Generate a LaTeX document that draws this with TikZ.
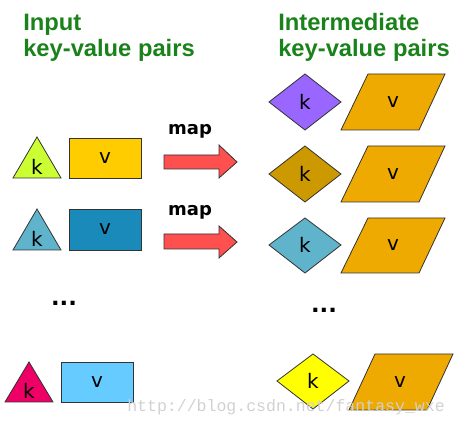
\documentclass[tikz,border=0pt]{standalone}
\usepackage{fontspec}
\setmainfont{DejaVu Sans}
\newfontfamily\titlefont{Liberation Sans}
\newfontfamily\markfont{Liberation Mono}
\definecolor{titlegreen}{HTML}{1A821A}
\definecolor{limeK}{HTML}{CCFF33}
\definecolor{goldV}{HTML}{FFCC00}
\definecolor{tealK}{HTML}{5FB4CC}
\definecolor{blueV}{HTML}{1A8ABB}
\definecolor{pinkK}{HTML}{EE0066}
\definecolor{skyV}{HTML}{66CCFF}
\definecolor{purpleK}{HTML}{9966FF}
\definecolor{ochreK}{HTML}{CC9900}
\definecolor{yellowK}{HTML}{FFFF00}
\definecolor{orangeV}{HTML}{EEAA00}
\definecolor{arrowred}{HTML}{FF5050}
\definecolor{edge}{HTML}{333333}
\tikzset{
  shapeline/.style={draw=edge, line width=0.6pt, line join=miter},
  lbl/.style={inner sep=0pt, font=\fontsize{15}{18}\selectfont},
  title/.style={text=titlegreen, font=\titlefont\bfseries\fontsize{17.8}{19.5}\selectfont, anchor=base west, inner sep=0pt},
  maplbl/.style={font=\bfseries\fontsize{13.5}{16}\selectfont, inner sep=0pt},
  dots/.style={font=\bfseries\fontsize{17}{18}\selectfont, inner sep=0pt},
}
\begin{document}
\begin{tikzpicture}[x=0.75pt, y=-0.75pt]
\useasboundingbox (0,0) rectangle (458,427);

% titles
\node[title] (tin1) at (23,31) {Input};
\node[title] (tin2) at (23,57) {key-value pairs};
\node[title] (tmid1) at (278,31) {Intermediate};
\node[title] (tmid2) at (278,57) {key-value pairs};

% input row 1
\filldraw[shapeline, fill=limeK] (13,178) -- (37,137) -- (61,178) -- cycle;
\node[lbl] (k1) at (37,167) {k};
\filldraw[shapeline, fill=goldV] (69,138) rectangle (141,178);
\node[lbl] (v1) at (105,158) {v};

% input row 2
\filldraw[shapeline, fill=tealK] (13,250) -- (37,209) -- (61,250) -- cycle;
\node[lbl] (k2) at (37,239) {k};
\filldraw[shapeline, fill=blueV] (69,209) rectangle (141,250);
\node[lbl] (v2) at (105,229) {v};

% dots
\node[dots] (d1) at (64,303) {...};
\node[dots] (d2) at (324,310) {...};

% input row 3
\filldraw[shapeline, fill=pinkK] (5,402) -- (29,362) -- (53,402) -- cycle;
\node[lbl] (k3) at (29,391) {k};
\filldraw[shapeline, fill=skyV] (61,362) rectangle (133,402);
\node[lbl] (v3) at (97,382) {v};

% map arrows
\filldraw[shapeline, fill=arrowred] (164,155) -- (219,155) -- (219,145) -- (237,162) -- (219,178) -- (219,169) -- (164,169) -- cycle;
\node[maplbl] (m1) at (190,131) {map};
\filldraw[shapeline, fill=arrowred] (164,234) -- (219,234) -- (219,226) -- (237,242) -- (219,258) -- (219,249) -- (164,249) -- cycle;
\node[maplbl] (m2) at (190,212) {map};

% intermediate pairs
\filldraw[shapeline, fill=purpleK] (269,102) -- (305,74) -- (341,102) -- (305,130) -- cycle;
\node[lbl] (ik1) at (305,102) {k};
\filldraw[shapeline, fill=orangeV] (341,130) -- (368,74) -- (445,74) -- (419,130) -- cycle;
\node[lbl] (iv1) at (393,102) {v};

\filldraw[shapeline, fill=ochreK] (269,174) -- (305,146) -- (341,174) -- (305,202) -- cycle;
\node[lbl] (ik2) at (305,174) {k};
\filldraw[shapeline, fill=orangeV] (341,202) -- (368,146) -- (445,146) -- (419,202) -- cycle;
\node[lbl] (iv2) at (393,174) {v};

\filldraw[shapeline, fill=tealK] (269,245) -- (305,218) -- (341,245) -- (305,273) -- cycle;
\node[lbl] (ik3) at (305,245) {k};
\filldraw[shapeline, fill=orangeV] (341,273) -- (368,218) -- (445,218) -- (419,273) -- cycle;
\node[lbl] (iv3) at (393,245) {v};

\filldraw[shapeline, fill=yellowK] (277,381) -- (313,354) -- (349,381) -- (313,409) -- cycle;
\node[lbl] (ik4) at (313,381) {k};
\filldraw[shapeline, fill=orangeV] (349,410) -- (375,354) -- (453,354) -- (427,410) -- cycle;
\node[lbl] (iv4) at (400,382) {v};

% watermark
\node[text=black!18, font=\markfont\fontsize{12.4}{14}\selectfont, inner sep=0pt] (wm) at (286,407) {http://blog.csdn.net/fantasy\_wxe};
\end{tikzpicture}
\end{document}
